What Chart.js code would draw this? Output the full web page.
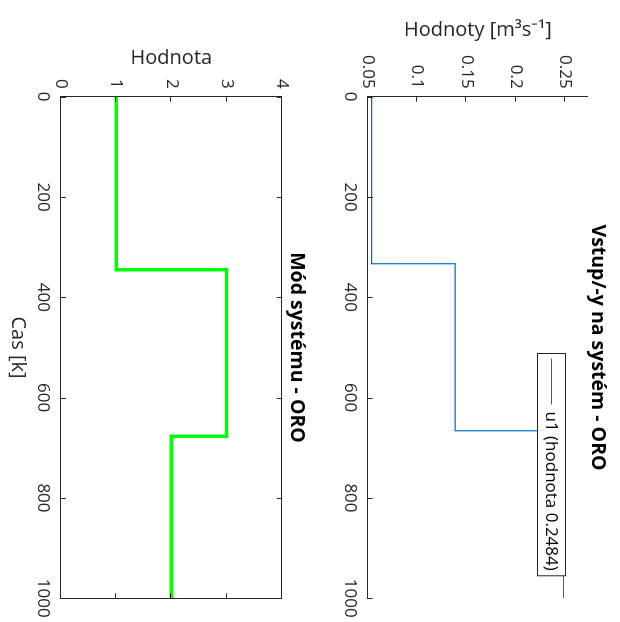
<!DOCTYPE html>
<html>
<head>
<meta charset="utf-8">
<script src="https://cdn.jsdelivr.net/npm/chart.js@4"></script>
<style>
  html, body { margin: 0; padding: 0; background: #fff; overflow: hidden; }
  /* the figure is laid out landscape and turned a quarter turn clockwise */
  #figure { position: absolute; left: 0; top: 0; width: 622px; height: 620px;
            transform-origin: 0 0; transform: translate(620px, 0) rotate(90deg); }
  #figure canvas { position: absolute; left: 0; top: 0; }
</style>
</head>
<body>
<div id="figure">
  <canvas id="inputChart" width="622" height="620"></canvas>
  <canvas id="modeChart" width="622" height="620"></canvas>
</div>
<script>
// time axis
const timeTicks = [0, 200, 400, 600, 800, 1000];

// input u1 (stairs: value held from each time until the next)
const inputTimes  = [0, 333, 666, 1000];
const inputValues = [0.054, 0.1386, 0.2484, 0.2484];
const inputTicks  = [0.05, 0.1, 0.15, 0.2, 0.25];
const inputLabel  = 'u1 (hodnota 0.2484)';

// system mode
const modeTimes  = [0, 345, 677, 1000];
const modeValues = [1, 3, 2, 2];
const modeTicks  = [0, 1, 2, 3, 4];

const AXIS = '#262626';
Chart.defaults.font.family = "'Open Sans', sans-serif";
Chart.defaults.color = AXIS;

const toPoints = (xs, ys) => xs.map((x, i) => ({ x: x, y: ys[i] }));
const fixTicks = list => scale => { scale.ticks = list.map(v => ({ value: v })); };

// inward tick marks, optional full box
const inwardTicks = {
  id: 'inwardTicks',
  afterDatasetsDraw(chart, args, opts) {
    const { ctx, chartArea: a, scales: { x, y } } = chart;
    const len = 5;
    ctx.save();
    ctx.strokeStyle = AXIS;
    ctx.lineWidth = 1;
    ctx.beginPath();
    x.ticks.forEach(t => {
      const px = Math.round(x.getPixelForValue(t.value)) + 0.5;
      ctx.moveTo(px, a.bottom); ctx.lineTo(px, a.bottom - len);
      if (opts.box) { ctx.moveTo(px, a.top); ctx.lineTo(px, a.top + len); }
    });
    y.ticks.forEach(t => {
      const py = Math.round(y.getPixelForValue(t.value)) + 0.5;
      ctx.moveTo(a.left, py); ctx.lineTo(a.left + len, py);
      if (opts.box) { ctx.moveTo(a.right, py); ctx.lineTo(a.right - len, py); }
    });
    if (opts.box) {
      const r = Math.round(a.right) + 0.5, t = Math.round(a.top) + 0.5;
      ctx.moveTo(a.left, t); ctx.lineTo(r, t); ctx.lineTo(r, a.bottom);
    }
    ctx.stroke();
    ctx.restore();
  }
};

// bold title centred over the plot area
const areaTitle = {
  id: 'areaTitle',
  afterDraw(chart, args, opts) {
    const { ctx, chartArea: a } = chart;
    ctx.save();
    ctx.font = "bold 19.5px 'Open Sans', sans-serif";
    ctx.fillStyle = '#000';
    ctx.textAlign = 'center';
    ctx.textBaseline = 'middle';
    ctx.fillText(opts.text, (a.left + a.right) / 2, a.top - opts.gap);
    ctx.restore();
  }
};

// boxed legend inside the plot area, upper right
const boxLegend = {
  id: 'boxLegend',
  afterDatasetsDraw(chart, args, opts) {
    if (!opts.show) return;
    const { ctx, chartArea: a } = chart;
    const ds = chart.data.datasets[0];
    ctx.save();
    ctx.font = "17px 'Open Sans', sans-serif";
    const tw = ctx.measureText(ds.label).width;
    const sample = 46, gap = 7, pad = 5, h = 28;
    const w = pad + sample + gap + tw + pad;
    const x0 = Math.round(a.right - opts.right - w) + 0.5;
    const y0 = Math.round(a.top + opts.top) + 0.5;
    ctx.fillStyle = '#fff';
    ctx.fillRect(x0, y0, w, h);
    ctx.strokeStyle = AXIS; ctx.lineWidth = 1;
    ctx.strokeRect(x0, y0, w, h);
    ctx.strokeStyle = ds.borderColor; ctx.lineWidth = ds.borderWidth;
    ctx.beginPath();
    ctx.moveTo(x0 + pad, y0 + h / 2); ctx.lineTo(x0 + pad + sample, y0 + h / 2);
    ctx.stroke();
    ctx.fillStyle = '#000';
    ctx.textBaseline = 'middle';
    ctx.fillText(ds.label, x0 + pad + sample + gap, y0 + h / 2 + 1);
    ctx.restore();
  }
};

function axisX(height, extra) {
  return Object.assign({
    type: 'linear', min: 0, max: 1000,
    afterBuildTicks: fixTicks(timeTicks),
    ticks: { font: { size: 17 }, padding: 8, maxRotation: 0, autoSkip: false,
             callback: v => String(v) },
    grid: { display: false, drawTicks: false },
    border: { display: true, color: AXIS, width: 1 },
    afterFit: s => { s.height = height; s.paddingLeft = 0; s.paddingRight = 0; }
  }, extra);
}

function axisY(min, max, list, titleText, titleGap) {
  return {
    type: 'linear', min: min, max: max,
    afterBuildTicks: fixTicks(list),
    ticks: { font: { size: 17 }, padding: 8, callback: v => String(v) },
    grid: { display: false, drawTicks: false },
    border: { display: true, color: AXIS, width: 1 },
    title: { display: true, text: titleText, color: AXIS,
             font: { size: 20 }, padding: { top: titleGap, bottom: 0 } },
    afterFit: s => { s.width = 96.7; s.paddingTop = 0; s.paddingBottom = 0; }
  };
}

new Chart(document.getElementById('inputChart'), {
  type: 'line',
  data: { datasets: [{
    label: inputLabel, data: toPoints(inputTimes, inputValues),
    borderColor: '#0072BD', borderWidth: 1.2, pointRadius: 0, stepped: true, fill: false
  }] },
  options: {
    responsive: false, animation: false, devicePixelRatio: 1,
    layout: { padding: { left: 0, right: 23.7, top: 32, bottom: 327.7 } },
    scales: {
      x: axisX(40, {}),
      y: axisY(0.05, 0.2732, inputTicks, 'Hodnoty [m³s⁻¹]', 18)
    },
    plugins: {
      legend: { display: false },
      tooltip: { enabled: false },
      areaTitle: { text: 'Vstup/-y na systém - ORO', gap: 10 },
      inwardTicks: { box: false },
      boxLegend: { show: true, right: 23, top: 22 }
    }
  },
  plugins: [inwardTicks, boxLegend, areaTitle]
});

new Chart(document.getElementById('modeChart'), {
  type: 'line',
  data: { datasets: [{
    label: 'mode', data: toPoints(modeTimes, modeValues),
    borderColor: '#00FF00', borderWidth: 3.5, pointRadius: 0, stepped: true, fill: false
  }] },
  options: {
    responsive: false, animation: false, devicePixelRatio: 1,
    layout: { padding: { left: 0, right: 23.7, top: 338.3, bottom: 0 } },
    scales: {
      x: axisX(61, {
        title: { display: true, text: 'Cas [k]', color: AXIS, font: { size: 20 },
                 padding: { top: 0, bottom: 6 } }
      }),
      y: axisY(0, 4, modeTicks, 'Hodnota', 46)
    },
    plugins: {
      legend: { display: false },
      tooltip: { enabled: false },
      areaTitle: { text: 'Mód systému - ORO', gap: 15.3 },
      inwardTicks: { box: true },
      boxLegend: { show: false }
    }
  },
  plugins: [inwardTicks, boxLegend, areaTitle]
});
</script>
</body>
</html>
